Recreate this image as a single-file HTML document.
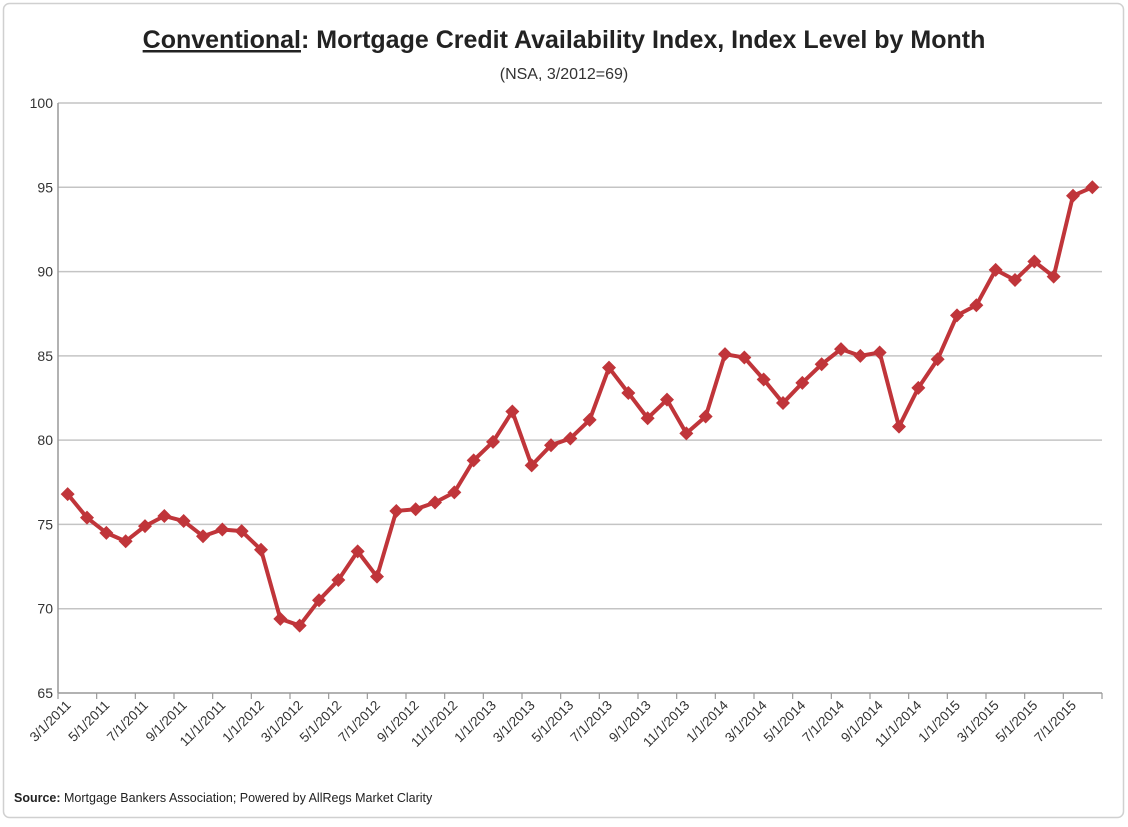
<!DOCTYPE html>
<html><head><meta charset="utf-8"><style>
html,body{margin:0;padding:0;background:#fff;}
body{width:1128px;height:822px;overflow:hidden;font-family:"Liberation Sans",sans-serif;}
</style></head><body>
<svg id="chart" width="1128" height="822" xmlns="http://www.w3.org/2000/svg" font-family="Liberation Sans, sans-serif">
<rect x="3.5" y="3.5" width="1120" height="814" rx="6" fill="#fff" stroke="#d0d0d0" stroke-width="1.5"/>
<text x="564" y="48" text-anchor="middle" font-size="25" font-weight="bold" fill="#222"><tspan text-decoration="underline">Conventional</tspan>: Mortgage Credit Availability Index, Index Level by Month</text>
<text x="564" y="79" text-anchor="middle" font-size="16" fill="#333">(NSA, 3/2012=69)</text>
<g id="grid"></g><g id="axes"></g><g id="series"></g>
<text x="14" y="802" font-size="12.5" fill="#222"><tspan font-weight="bold">Source:</tspan> Mortgage Bankers Association; Powered by AllRegs Market Clarity</text>
</svg>
<script>
const months = ["3/1/2011","4/1/2011","5/1/2011","6/1/2011","7/1/2011","8/1/2011","9/1/2011","10/1/2011","11/1/2011","12/1/2011","1/1/2012","2/1/2012","3/1/2012","4/1/2012","5/1/2012","6/1/2012","7/1/2012","8/1/2012","9/1/2012","10/1/2012","11/1/2012","12/1/2012","1/1/2013","2/1/2013","3/1/2013","4/1/2013","5/1/2013","6/1/2013","7/1/2013","8/1/2013","9/1/2013","10/1/2013","11/1/2013","12/1/2013","1/1/2014","2/1/2014","3/1/2014","4/1/2014","5/1/2014","6/1/2014","7/1/2014","8/1/2014","9/1/2014","10/1/2014","11/1/2014","12/1/2014","1/1/2015","2/1/2015","3/1/2015","4/1/2015","5/1/2015","6/1/2015","7/1/2015","8/1/2015"];
const values = [76.8,75.4,74.5,74.0,74.9,75.5,75.2,74.3,74.7,74.6,73.5,69.4,69.0,70.5,71.7,73.4,71.9,75.8,75.9,76.3,76.9,78.8,79.9,81.7,78.5,79.7,80.1,81.2,84.3,82.8,81.3,82.4,80.4,81.4,85.1,84.9,83.6,82.2,83.4,84.5,85.4,85.0,85.2,80.8,83.1,84.8,87.4,88.0,90.1,89.5,90.6,89.7,94.5,95.0];
const yTicks = [65,70,75,80,85,90,95,100];

const NS="http://www.w3.org/2000/svg";
const X0=58, X1=1102, Y0=693, Y1=103, YMIN=65, YMAX=100;
const catW=(X1-X0)/months.length;
function xScale(i){return X0+catW*(i+0.5);}
function yScale(v){return Y0-(v-YMIN)/(YMAX-YMIN)*(Y0-Y1);}
function mk(tag,attrs,parent){const e=document.createElementNS(NS,tag);for(const k in attrs)e.setAttribute(k,attrs[k]);parent.appendChild(e);return e;}
const grid=document.getElementById('grid'), axes=document.getElementById('axes'), series=document.getElementById('series');

yTicks.forEach(t=>{
  const y=yScale(t);
  const gl=mk('line',{x1:X0,x2:X1,y1:y,y2:y,stroke:t===YMIN?'#999':'#c4c4c4','stroke-width':1.5},grid);
  
  
  const tl=mk('text',{x:X0-5,y:y+5,'text-anchor':'end','font-size':14,fill:'#333'},axes);
  tl.textContent=t;
  
  
});
const ya=mk('line',{x1:X0,x2:X0,y1:Y1,y2:Y0,stroke:'#999','stroke-width':1.5},axes);



for(let i=0;i<=months.length;i+=2){
  const x=X0+catW*i;
  const tk=mk('line',{x1:x,x2:x,y1:Y0,y2:Y0+6,stroke:'#999','stroke-width':1.2},axes);
  
  
}
months.forEach((m,i)=>{
  if(i%2!==0)return;
  const x=xScale(i)+4, y=Y0+13;
  const tl=mk('text',{x:x,y:y,'text-anchor':'end','font-size':13.5,fill:'#333',transform:`rotate(-45 ${x} ${y})`},axes);
  tl.textContent=m;
  
  
});

const pts=values.map((v,i)=>xScale(i)+','+yScale(v)).join(' ');
const line=mk('polyline',{points:pts,fill:'none',stroke:'#c0353a','stroke-width':4,'stroke-linejoin':'round'},series);


values.forEach((v,i)=>{
  const x=xScale(i), y=yScale(v);
  const d=mk('polygon',{points:`${x},${y-7} ${x+7},${y} ${x},${y+7} ${x-7},${y}`,fill:'#c0353a'},series);
  
  
});
</script>
</body></html>
